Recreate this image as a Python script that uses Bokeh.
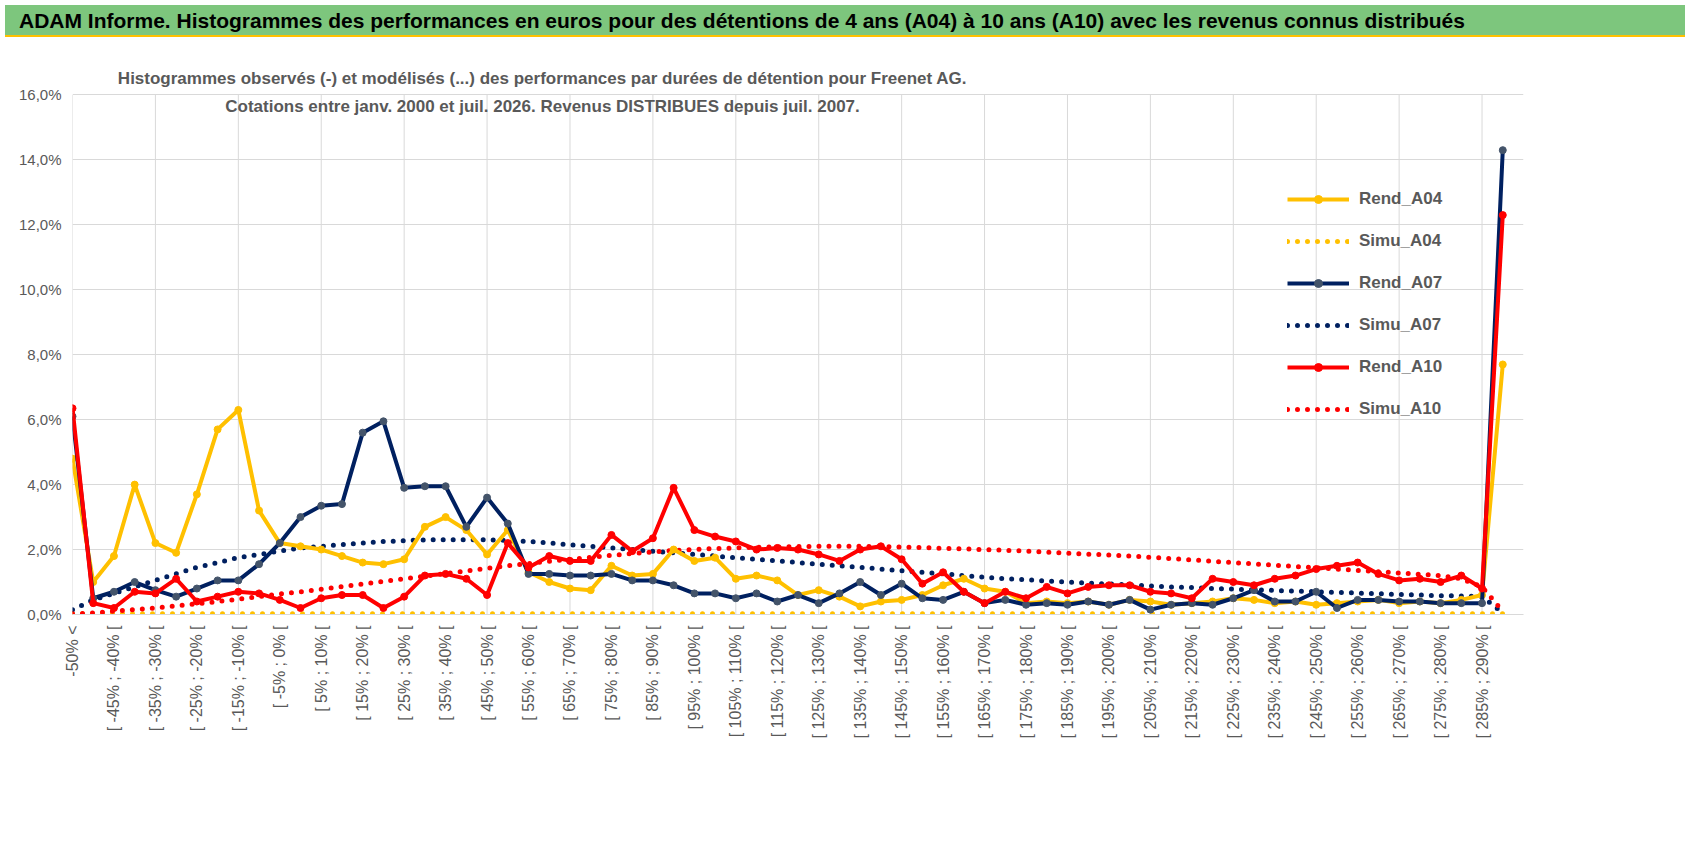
from bokeh.plotting import figure
from bokeh.models import Label, Legend, LegendItem, FixedTicker, CustomJSTickFormatter, Range1d, Div
from bokeh.layouts import column
from bokeh.embed import file_html
from bokeh.resources import INLINE

cats = ["-50% <"] + ["[ %d%% ; %d%% [" % (a, a + 5) for a in range(-50, 295, 5)]
x = list(range(len(cats)))
vgrid = list(range(0, 70, 4))

rend_a04 = [4.8,1.0,1.8,4.0,2.2,1.9,3.7,5.7,6.3,3.2,2.2,2.1,2.0,1.8,1.6,1.55,1.7,2.7,3.0,2.6,
            1.85,2.6,1.3,1.0,0.8,0.75,1.5,1.2,1.25,2.0,1.65,1.75,1.1,1.2,1.05,0.6,0.75,0.55,0.25,0.4,
            0.45,0.6,0.9,1.1,0.8,0.7,0.35,0.4,0.35,0.4,0.3,0.45,0.4,0.3,0.35,0.4,0.5,0.45,0.35,0.4,
            0.3,0.35,0.4,0.45,0.35,0.4,0.35,0.45,0.6,7.7]
rend_a07 = [6.1,0.5,0.7,1.0,0.75,0.55,0.8,1.05,1.05,1.55,2.2,3.0,3.35,3.4,5.6,5.95,3.9,3.95,3.95,2.7,
            3.6,2.8,1.25,1.25,1.2,1.2,1.25,1.05,1.05,0.9,0.65,0.65,0.5,0.65,0.4,0.6,0.35,0.65,1.0,0.6,
            0.95,0.5,0.45,0.7,0.35,0.45,0.3,0.35,0.3,0.4,0.3,0.45,0.15,0.3,0.35,0.3,0.5,0.75,0.4,0.4,
            0.7,0.2,0.45,0.45,0.4,0.4,0.35,0.35,0.35,14.3]
rend_a10 = [6.35,0.35,0.2,0.7,0.65,1.1,0.4,0.55,0.7,0.65,0.45,0.2,0.5,0.6,0.6,0.2,0.55,1.2,1.25,1.1,
            0.6,2.2,1.45,1.8,1.65,1.65,2.45,1.95,2.35,3.9,2.6,2.4,2.25,2.0,2.05,2.0,1.85,1.65,2.0,2.1,
            1.7,0.95,1.3,0.7,0.35,0.7,0.5,0.85,0.65,0.85,0.9,0.9,0.7,0.65,0.5,1.1,1.0,0.9,1.1,1.2,
            1.4,1.5,1.6,1.25,1.05,1.1,1.0,1.2,0.8,12.3]
simu_a04 = [0.02,0.02,0.02,0.02,0.02,0.02,0.02,0.02,0.02,0.02,0.02,0.02,0.02,0.02,0.02,0.02,0.02,0.02,0.02,0.02,
            0.02,0.02,0.02,0.02,0.02,0.02,0.02,0.02,0.02,0.02,0.02,0.02,0.02,0.02,0.02,0.02,0.02,0.02,0.02,0.02,
            0.02,0.02,0.02,0.02,0.02,0.02,0.02,0.02,0.02,0.02,0.02,0.02,0.02,0.02,0.02,0.02,0.02,0.02,0.02,0.02,
            0.02,0.02,0.02,0.02,0.02,0.02,0.02,0.02,0.02,0.02]
simu_a07 = [0.15,0.45,0.65,0.85,1.05,1.25,1.45,1.6,1.75,1.85,1.95,2.05,2.1,2.15,2.2,2.25,2.27,2.3,2.3,2.3,
            2.3,2.28,2.25,2.2,2.15,2.1,2.05,2.0,1.95,1.9,1.85,1.8,1.75,1.7,1.65,1.6,1.55,1.5,1.45,1.4,
            1.35,1.3,1.25,1.2,1.15,1.1,1.07,1.03,1.0,0.97,0.94,0.91,0.88,0.85,0.83,0.8,0.78,0.76,0.74,0.72,
            0.7,0.68,0.66,0.64,0.62,0.6,0.58,0.57,0.55,0.05]
simu_a10 = [0.02,0.05,0.1,0.15,0.2,0.27,0.33,0.4,0.47,0.55,0.63,0.7,0.78,0.86,0.94,1.02,1.1,1.18,1.26,1.34,
            1.42,1.5,1.57,1.64,1.7,1.76,1.82,1.88,1.93,1.97,2.0,2.03,2.05,2.07,2.08,2.09,2.1,2.1,2.1,2.09,
            2.08,2.06,2.04,2.02,2.0,1.98,1.95,1.92,1.89,1.86,1.83,1.8,1.76,1.72,1.68,1.64,1.6,1.56,1.52,1.48,
            1.44,1.4,1.36,1.32,1.28,1.24,1.2,1.1,0.85,0.1]

YEL, NAV, RED = "#FFC000", "#002060", "#FF0000"
FONT = "Liberation Sans"

banner = Div(text="ADAM Informe. Histogrammes des performances en euros pour des détentions de 4 ans (A04) à 10 ans (A10) avec les revenus connus distribués",
             width=1680, height=32,
             styles={"background-color": "#7DC67D", "font-family": FONT, "font-size": "21px",
                     "font-weight": "bold", "color": "black", "padding-left": "14px",
                     "line-height": "32px", "border-bottom": "2px solid #FFC000", "box-sizing": "border-box"})

p = figure(width=1680, height=800, output_backend="svg", toolbar_location=None,
           x_range=Range1d(0, 70), y_range=Range1d(0, 17),
           min_border_left=72, min_border_right=157, min_border_top=20, min_border_bottom=228)
p.outline_line_color = None
p.background_fill_color = "white"

p.yaxis.ticker = FixedTicker(ticks=[0, 2, 4, 6, 8, 10, 12, 14, 16])
p.yaxis.formatter = CustomJSTickFormatter(code="return tick.toFixed(1).replace('.', ',') + '%';")
p.xaxis.ticker = FixedTicker(ticks=x[::2])
p.xaxis.major_label_overrides = {i: cats[i] for i in x[::2]}
p.xaxis.major_label_orientation = 3.14159 / 2
for ax in (p.xaxis, p.yaxis):
    ax.axis_line_color = None
    ax.major_tick_line_color = None
    ax.minor_tick_line_color = None
    ax.major_label_text_font = FONT
    ax.major_label_text_font_size = "15px"
    ax.major_label_text_color = "#595959"
p.xaxis.major_label_text_font_size = "16px"
p.xaxis.axis_line_color = "#d9d9d9"
p.ygrid.grid_line_color = "#d9d9d9"
p.xgrid.grid_line_color = None
p.segment(x0=vgrid, x1=vgrid, y0=[0] * len(vgrid), y1=[16] * len(vgrid),
          line_color="#d9d9d9", line_width=1, level="underlay")

items = []
def rend(y, c, mc, name):
    l = p.line(x, y, line_color=c, line_width=4)
    m = p.scatter(x, y, size=7, fill_color=mc, line_color=mc)
    items.append(LegendItem(label=name, renderers=[l, m]))
def simu(y, c, name):
    l = p.line(x, y, line_color=c, line_width=5, line_dash="0 10", line_cap="round")
    items.append(LegendItem(label=name, renderers=[l]))

simu(simu_a04, YEL, "Simu_A04")
simu(simu_a07, NAV, "Simu_A07")
simu(simu_a10, RED, "Simu_A10")
rend(rend_a04, YEL, YEL, "Rend_A04")
rend(rend_a07, NAV, "#44546A", "Rend_A07")
rend(rend_a10, RED, RED, "Rend_A10")

order = ["Rend_A04", "Simu_A04", "Rend_A07", "Simu_A07", "Rend_A10", "Simu_A10"]
items = sorted(items, key=lambda it: order.index(it.label.value))
leg = Legend(items=items, location=(1215, 195), border_line_color=None,
             background_fill_alpha=0, label_text_font=FONT, label_text_font_size="17px",
             label_text_font_style="bold", label_text_color="#595959", spacing=22,
             glyph_width=62, glyph_height=20, label_standoff=10)
p.add_layout(leg, "center")

for txt, yy in [("Histogrammes observés (-) et modélisés (...) des performances par durées de détention pour Freenet AG.", 527),
                ("Cotations entre janv. 2000 et juil. 2026. Revenus DISTRIBUES depuis juil. 2007.", 499)]:
    p.add_layout(Label(x=470, y=yy, x_units="screen", y_units="screen", text=txt,
                       text_align="center", text_font=FONT, text_font_size="17px",
                       text_font_style="bold", text_color="#595959"))

open("out.html", "w").write(file_html(column(banner, p, spacing=0), INLINE))
